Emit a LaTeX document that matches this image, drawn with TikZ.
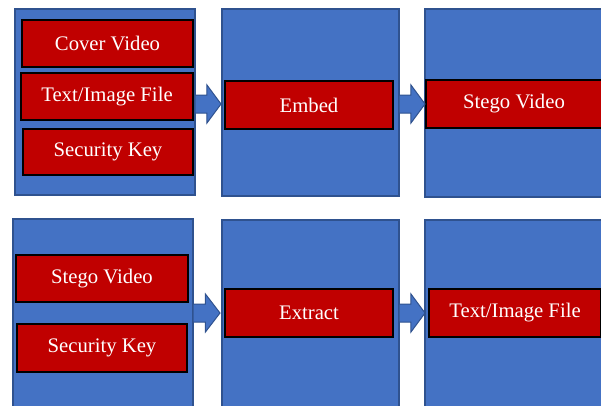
\documentclass[tikz,border=0pt]{standalone}
\usepackage{fontspec}
\setmainfont{Liberation Serif}
\usetikzlibrary{calc}
\definecolor{panelblue}{HTML}{4472C4}
\definecolor{paneledge}{HTML}{2F528F}
\definecolor{boxred}{HTML}{C00000}
\tikzset{
  panel/.style={draw=paneledge, fill=panelblue, line width=1.4pt},
  redbox/.style={draw=black, fill=boxred, line width=1.2pt, text=white, inner sep=0pt,
    font=\fontsize{20.7}{24}\selectfont},
  blockarrow/.style={draw=paneledge, fill=panelblue, line width=1pt, line join=miter}
}
\newcommand{\blockarr}[2]{%
  \draw[blockarrow] ($(#1)+(0,-9)$) -- ($(#1)!0.46!(#2)+(0,-9)$) -- ($(#1)!0.46!(#2)+(0,-19)$)
    -- (#2) -- ($(#1)!0.46!(#2)+(0,19)$) -- ($(#1)!0.46!(#2)+(0,9)$) -- ($(#1)+(0,9)$) -- cycle;}
\begin{document}
\begin{tikzpicture}[x=1pt,y=-1pt]
\useasboundingbox (0,0) rectangle (601,405);
\clip (0,0) rectangle (601,405);
% top row panels
\draw[panel] (15,9) rectangle (195,195);
\draw[panel] (222,9) rectangle (399,196);
\draw[panel] (425,9) rectangle (640,197);
\coordinate (p1r) at (195,104);
\coordinate (p2l) at (221,104);
\coordinate (p2r) at (399,104);
\coordinate (p3l) at (425,104);
% top row red boxes
\node[redbox, minimum width=171pt, minimum height=47pt] (cover) at (107.5,43.5) {Cover Video};
\node[redbox, minimum width=172pt, minimum height=47pt] (file) at (107,96.5) {Text/Image File};
\node[redbox, minimum width=170pt, minimum height=46pt] (key) at (108,152) {Security Key};
\node[redbox, minimum width=168pt, minimum height=48pt] (embed) at (309,105) {Embed};
\node[redbox, minimum width=176pt, minimum height=48pt] (stego) at (514,104) {Stego Video};
% top arrows
\blockarr{p1r}{p2l}
\blockarr{p2r}{p3l}
% bottom row panels
\draw[panel] (13,219) rectangle (193,420);
\draw[panel] (222,220) rectangle (399,420);
\draw[panel] (425,220) rectangle (640,420);
\coordinate (q1r) at (193,313);
\coordinate (q2l) at (220,313);
\coordinate (q2r) at (399,313);
\coordinate (q3l) at (425,313);
% bottom red boxes
\node[redbox, minimum width=172pt, minimum height=47pt] (stego2) at (102,278.5) {Stego Video};
\node[redbox, minimum width=170pt, minimum height=48pt] (key2) at (102,348) {Security Key};
\node[redbox, minimum width=168pt, minimum height=48pt] (extract) at (309,313) {Extract};
\node[redbox, minimum width=172pt, minimum height=48pt] (file2) at (515,313) {Text/Image File};
% bottom arrows
\blockarr{q1r}{q2l}
\blockarr{q2r}{q3l}
\end{tikzpicture}
\end{document}
